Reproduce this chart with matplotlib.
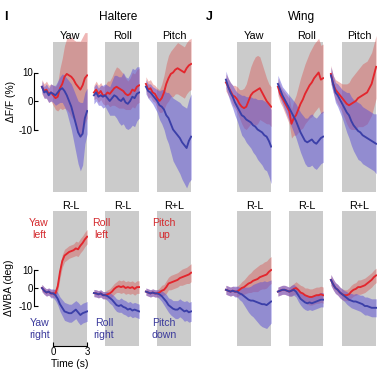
import numpy as np
import matplotlib
matplotlib.use('Agg')
import matplotlib.pyplot as plt
from matplotlib.patches import Rectangle

plt.rcParams['font.family'] = ['Liberation Sans', 'DejaVu Sans']
plt.rcParams['axes.unicode_minus'] = False

W, H = 379, 378

# time base (s), stimulus from 0 to 3 s
t = np.round(np.arange(-1.0, 3.01, 0.2), 1)

# ---- I / J top row: dF/F (%) ----
hal_yaw_red = [5, 3.5, 4, 2.5, 3, 2, 1, 1.5, 4.5, 6, 8.5, 9.5, 9, 8.5, 7.5, 6, 5, 4, 5.5, 8, 9]
hal_yaw_red_sem = [2.5, 2.5, 3, 3, 3, 3.5, 4, 5, 7, 9, 11, 12.5, 13, 14, 14, 15, 16, 17, 17, 16, 15]
hal_yaw_blue = [5, 3, 3.5, 2, 3, 2.5, 2, 3, 4, 4.5, 3.5, 2, 0, -2, -5, -8, -11, -12.5, -11.5, -6, -3.5]
hal_yaw_blue_sem = [2, 2, 2.5, 2.5, 3, 3, 3.5, 4, 4.5, 5, 5.5, 6, 7, 8, 9, 10, 11, 12, 11, 9, 8]

hal_roll_red = [3, 4, 2.5, 3.5, 2, 2, 3, 2.5, 3.5, 4.5, 5, 4.5, 4, 3.5, 2.5, 2, 2.5, 4, 3.5, 5, 5.5]
hal_roll_red_sem = [2.5, 3, 3, 3, 3, 3.5, 4, 4.5, 5, 6, 7, 7, 6.5, 6, 5.5, 5, 5.5, 6, 6, 6, 6]
hal_roll_blue = [2, 3, 1.5, 2, 1.5, 2, 1, 0, 1, 2, 1.5, 0.5, 0, 1, -0.5, -1, 0, 1.5, 1, 2.5, 3]
hal_roll_blue_sem = [3, 3, 3, 3.5, 4, 4, 4.5, 5, 6, 7, 7.5, 8, 8.5, 9, 9, 9, 9.5, 10, 10, 9.5, 9]

hal_pitch_red = [6, 4, 4.5, 3, 2.5, 1, 0, 1, 3, 6, 8, 9.5, 10, 11, 11.5, 11, 10.5, 10, 11.5, 12.5, 13]
hal_pitch_red_sem = [2.5, 3, 3, 3, 3, 3.5, 4, 5, 6, 7, 8, 8, 8.5, 8.5, 9, 9, 9, 9, 9, 9, 9]
hal_pitch_blue = [5, 3.5, 3, 2, 1, 0, -1.5, -2, -3, -5, -6, -8, -10, -11, -12, -13, -14.5, -15.5, -16.5, -14, -12.5]
hal_pitch_blue_sem = [2.5, 2.5, 3, 3, 3.5, 4, 5, 6, 7, 8, 9, 10, 11, 11.5, 12, 12.5, 13, 13.5, 14, 14.5, 15]

wng_yaw_red = [6.5, 5, 3.5, 2, 1.5, 0.5, -1, -2, -2.5, -2, 0, 2, 3, 3.5, 4, 4.5, 3, 1.5, 0, -1, -2]
wng_yaw_red_sem = [3, 3, 3, 3.5, 4, 4.5, 5, 6, 7, 8, 9, 10, 11, 12, 12, 11, 10, 9, 8, 7, 7]
wng_yaw_blue = [7.5, 5, 3, 1.5, -0.5, -2, -3.5, -5, -5.5, -6.5, -7, -7.5, -8.5, -9, -10, -10.5, -11, -12, -12.5, -14, -16]
wng_yaw_blue_sem = [3, 3, 3.5, 4, 4.5, 5, 6, 7, 7.5, 8, 8.5, 9, 9.5, 10, 10.5, 11, 11.5, 12, 12, 12.5, 13]

wng_roll_red = [5, 2.5, 1, -0.5, -2, -3.5, -8, -6, -5, -3, -1, 0.5, 2.5, 4, 5.5, 6.5, 8, 9, 10, 7.5, 8]
wng_roll_red_sem = [3, 3, 3, 3.5, 4, 4.5, 5, 6, 7, 8, 9, 10, 10.5, 11, 11.5, 12, 12, 12, 12, 12, 12]
wng_roll_blue = [6, 4, 2, 0.5, -1, -2.5, -4, -5.5, -7, -9, -11, -12.5, -14, -14.5, -14, -13.5, -14.5, -15, -14, -13, -12.5]
wng_roll_blue_sem = [3, 3, 3, 3.5, 4, 4.5, 5, 5.5, 6, 6.5, 7, 7.5, 8, 8.5, 9, 9, 9, 9, 9, 9, 9]

wng_pitch_red = [9.5, 6, 4, 3, 2, 1, 0, -1, -1.5, -1, -0.5, 0, 1, 1.5, 2, 2.5, 3, 4.5, 6, 9, 12]
wng_pitch_red_sem = [3, 3, 3.5, 4, 4.5, 5, 6, 7, 8, 9, 9.5, 10, 10, 10.5, 11, 11, 11, 11, 11, 11, 11]
wng_pitch_blue = [9, 6, 3, 2, 0.5, -1, -2.5, -4, -5, -7, -8.5, -9.5, -10.5, -11, -12, -12.5, -13, -13.5, -14, -14.5, -15]
wng_pitch_blue_sem = [3, 3, 3.5, 4, 4.5, 5, 6, 7, 8, 8.5, 9, 9.5, 10, 10, 10, 10, 10, 10, 10, 10, 10.5]

# ---- bottom row: dWBA (deg) ----
wba_hal_yaw_red = [0, -1.5, -2.5, -2, -3, -3, -3, 1, 9, 15, 18, 19, 20, 20.5, 21, 22, 21.5, 23.5, 25, 27, 28.5]
wba_hal_yaw_red_sem = [2, 2, 2, 2, 2, 2, 2.5, 3, 3.5, 3.5, 3.5, 3.5, 3.5, 3.5, 3.5, 4, 4, 4, 4, 4, 4]
wba_hal_yaw_blue = [0, -1.5, -2.5, -2, -3, -3, -4, -6, -9, -11, -13, -13.5, -14, -14, -13, -12, -13.5, -15, -14, -13.5, -13]
wba_hal_yaw_blue_sem = [2, 2, 2, 2, 2.5, 2.5, 3, 3.5, 4, 4.5, 5, 5, 5, 5, 5, 5, 5.5, 5.5, 5.5, 5.5, 5.5]

wba_hal_roll_red = [-2.8, -3, -3.5, -3, -4, -4, -3.5, -3, -2, -0.5, 0.5, 1, 0.5, 1, 0, 0.5, 0, 0.5, -0.5, 0.5, 0.5]
wba_hal_roll_red_sem = [2, 2, 2, 2, 2, 2, 2.5, 2.5, 3, 3, 3, 3.5, 3.5, 3.5, 3.5, 3.5, 3.5, 3.5, 3.5, 3.5, 3.5]
wba_hal_roll_blue = [-2.8, -3, -3.5, -3, -4, -4, -4.5, -5.5, -6.5, -8, -9.5, -10, -9.5, -10.5, -11, -12, -11.5, -12.5, -12, -12.5, -13]
wba_hal_roll_blue_sem = [2, 2, 2, 2, 2, 2, 2.5, 3, 3, 3.5, 3.5, 3.5, 4, 4, 4, 4, 4, 4, 4, 4, 4]

wba_hal_pitch_red = [-2, -2.5, -3, -2.5, -3, -3, -2.5, -1.5, -1, 0.5, 2.5, 3, 3.5, 4, 4.5, 5.5, 6, 6.5, 7, 7.5, 8.5]
wba_hal_pitch_red_sem = [2, 2, 2, 2, 2, 2, 2.5, 3, 3, 3.5, 3.5, 4, 4, 4, 4, 4, 4.5, 4.5, 4.5, 5, 5]
wba_hal_pitch_blue = [-2, -2.5, -3, -2.5, -3, -3, -3.5, -4.5, -6, -7.5, -9.5, -10.5, -11.5, -12, -12, -11, -12, -13, -12.5, -13.5, -13]
wba_hal_pitch_blue_sem = [2, 2, 2, 2, 2, 2, 2.5, 3, 3.5, 4, 4, 4.5, 4.5, 5, 5, 5, 5, 5.5, 5.5, 5.5, 5.5]

wba_wng_yaw_red = [-1, -1.5, -2, -1.5, -2, -2, -1, 0, 0.5, 1.5, 2.5, 3, 4, 4.5, 5, 6, 6.5, 7, 7.5, 9, 10]
wba_wng_yaw_red_sem = [2.5, 2.5, 2.5, 2.5, 2.5, 3, 3, 3.5, 4, 4.5, 5, 5.5, 6, 6.5, 7, 7, 7, 7.5, 7.5, 7.5, 7.5]
wba_wng_yaw_blue = [-1, -1.5, -2, -1.5, -2, -2, -3, -3.5, -4.5, -5.5, -6.5, -7, -7, -7.5, -8, -8.5, -9, -9, -9.5, -8.5, -7.5]
wba_wng_yaw_blue_sem = [2.5, 2.5, 2.5, 2.5, 3, 3, 3.5, 4, 5, 6, 7, 8, 9, 10, 11, 12, 12.5, 13, 13, 12.5, 12]

wba_wng_roll_red = [-2, -1.5, -1, -1, -1.5, -2, -1.5, -0.5, 0, -1, -2.5, -3, -4, -4.5, -5, -5, -4.5, -4, -4, -3.5, -4]
wba_wng_roll_red_sem = [2.5, 2.5, 2.5, 2.5, 2.5, 2.5, 3, 3, 3.5, 3.5, 4, 4, 4, 4.5, 4.5, 4.5, 4.5, 4.5, 4.5, 4.5, 4.5]
wba_wng_roll_blue = [-2, -1.5, -1, -1, -1.5, -2, -1.5, -1, -2, -4, -6, -7, -8, -8.5, -8, -8.5, -8, -7.5, -7, -6.5, -6.5]
wba_wng_roll_blue_sem = [2.5, 2.5, 2.5, 2.5, 2.5, 2.5, 3, 3, 3, 3.5, 3.5, 4, 4, 4, 4, 4, 4, 4, 4, 4, 4]

wba_wng_pitch_red = [4.5, 2, 0, -1, -2.5, -3.5, -4, -4, -3.5, -2, -1, -0.5, 0.5, 0.5, 1, 1.5, 2.5, 3.5, 4.5, 6, 7]
wba_wng_pitch_red_sem = [3, 3, 3, 3, 3, 3, 3, 3, 3.5, 3.5, 3.5, 3.5, 4, 4, 4, 4, 4, 4, 4, 4, 4]
wba_wng_pitch_blue = [4.5, 2, 0, -1, -2.5, -3.5, -4.5, -5.5, -6.5, -7, -7.5, -7.5, -8, -8.5, -9, -10, -10, -10.5, -11, -11, -11]
wba_wng_pitch_blue_sem = [3, 3, 3, 3, 3, 3, 3, 3.5, 3.5, 4, 4, 4.5, 4.5, 4.5, 5, 5, 5, 5, 5, 5, 5]

top_titles = ['Yaw', 'Roll', 'Pitch']
bottom_titles = ['R-L', 'R-L', 'R+L']

RED = '#e3262d'
BLUE = '#3b3fa8'
GRAY = '#cbcbcb'

fig = plt.figure(figsize=(W / 100, H / 100), dpi=100, facecolor='white')


def fy(y):
    return 1 - y / H


def panel(left, top, height, ylim, gray, red, red_sem, blue, blue_sem):
    ax = fig.add_axes([left / W, 1 - (top + height) / H, 53.7 / W, height / H])
    ax.set_xlim(-1.7, 3.05)
    ax.set_ylim(ylim)
    ax.add_patch(Rectangle((0, gray[0]), 3, gray[1] - gray[0], fc=GRAY, ec='none', zorder=0))
    r, rs = np.array(red), np.array(red_sem)
    b, bs = np.array(blue), np.array(blue_sem)
    ax.fill_between(t, r - rs, r + rs, color='#d9534f', alpha=0.42, lw=0, zorder=1)
    ax.fill_between(t, b - bs, b + bs, color='#5b4fd6', alpha=0.5, lw=0, zorder=2)
    ax.plot(t, r, color=RED, lw=1.35, zorder=3)
    ax.plot(t, b, color=BLUE, lw=1.35, zorder=4)
    for s in ax.spines.values():
        s.set_visible(False)
    ax.set_xticks([])
    ax.set_yticks([])
    ax.patch.set_alpha(0)
    return ax


top_red = [hal_yaw_red, hal_roll_red, hal_pitch_red, wng_yaw_red, wng_roll_red, wng_pitch_red]
top_red_sem = [hal_yaw_red_sem, hal_roll_red_sem, hal_pitch_red_sem,
               wng_yaw_red_sem, wng_roll_red_sem, wng_pitch_red_sem]
top_blue = [hal_yaw_blue, hal_roll_blue, hal_pitch_blue, wng_yaw_blue, wng_roll_blue, wng_pitch_blue]
top_blue_sem = [hal_yaw_blue_sem, hal_roll_blue_sem, hal_pitch_blue_sem,
                wng_yaw_blue_sem, wng_roll_blue_sem, wng_pitch_blue_sem]
bot_red = [wba_hal_yaw_red, wba_hal_roll_red, wba_hal_pitch_red,
           wba_wng_yaw_red, wba_wng_roll_red, wba_wng_pitch_red]
bot_red_sem = [wba_hal_yaw_red_sem, wba_hal_roll_red_sem, wba_hal_pitch_red_sem,
               wba_wng_yaw_red_sem, wba_wng_roll_red_sem, wba_wng_pitch_red_sem]
bot_blue = [wba_hal_yaw_blue, wba_hal_roll_blue, wba_hal_pitch_blue,
            wba_wng_yaw_blue, wba_wng_roll_blue, wba_wng_pitch_blue]
bot_blue_sem = [wba_hal_yaw_blue_sem, wba_hal_roll_blue_sem, wba_hal_pitch_blue_sem,
                wba_wng_yaw_blue_sem, wba_wng_roll_blue_sem, wba_wng_pitch_blue_sem]

lefts = [34, 86, 138, 218, 270, 323]
for i, left in enumerate(lefts):
    # top: 0 at px 101, 2.85 px per %
    axt = panel(left, 101 - 26 * 2.85, 60 * 2.85, (-34, 26), (-31.9, 20.7),
                top_red[i], top_red_sem[i], top_blue[i], top_blue_sem[i])
    # bottom: 0 at px 288, 1.8 px per deg
    axb = panel(left, 288 - 45 * 1.8, 80 * 1.8, (-35, 45), (-32.2, 42.8),
                bot_red[i], bot_red_sem[i], bot_blue[i], bot_blue_sem[i])
    cx = (left + 8 + 11.33 * 2.5) / W
    fig.text(cx, fy(36), top_titles[i % 3], ha='center', va='center', fontsize=7.8)
    fig.text(cx, fy(206), bottom_titles[i % 3], ha='center', va='center', fontsize=7.8)
    if i == 0:
        for ax in (axt, axb):
            ax.spines['left'].set_visible(True)
            ax.spines['left'].set_bounds(-10, 10)
            ax.spines['left'].set_linewidth(0.8)
            ax.set_yticks([-10, 0, 10])
            ax.tick_params(axis='y', direction='in', length=3, width=0.8,
                           labelsize=7, pad=1)
        axb.spines['bottom'].set_visible(True)
        axb.spines['bottom'].set_position(('data', -32.2))
        axb.spines['bottom'].set_bounds(0, 3)
        axb.spines['bottom'].set_linewidth(0.8)
        axb.set_xticks([0, 3])
        axb.tick_params(axis='x', direction='in', length=3, width=0.8,
                        labelsize=7, pad=1)

# panel letters and group titles
fig.text(4 / W, fy(17), 'I', ha='left', va='center', fontsize=9, fontweight='bold')
fig.text(206 / W, fy(17), 'J', ha='left', va='center', fontsize=9, fontweight='bold')
fig.text(118 / W, fy(17), 'Haltere', ha='center', va='center', fontsize=8.6)
fig.text(302 / W, fy(17), 'Wing', ha='center', va='center', fontsize=8.6)

fig.text(11 / W, fy(101), 'ΔF/F (%)', rotation=90, ha='center', va='center', fontsize=7.4)
fig.text(9 / W, fy(288), 'ΔWBA (deg)', rotation=90, ha='center', va='center', fontsize=7.4)
fig.text(70 / W, fy(364), 'Time (s)', ha='center', va='center', fontsize=7.4)

# direction annotations
red_notes = [(39, 'Yaw\nleft'), (101, 'Roll\nleft'), (164, 'Pitch\nup')]
blue_notes = [(40, 'Yaw\nright'), (104, 'Roll\nright'), (164, 'Pitch\ndown')]
for x, s in red_notes:
    fig.text(x / W, fy(229), s, ha='center', va='center', fontsize=7.6,
             color='#d42a2e', linespacing=1.15)
for x, s in blue_notes:
    fig.text(x / W, fy(329), s, ha='center', va='center', fontsize=7.6,
             color='#3b3a9c', linespacing=1.15)

fig.savefig('out.png', dpi=100, facecolor='white')
